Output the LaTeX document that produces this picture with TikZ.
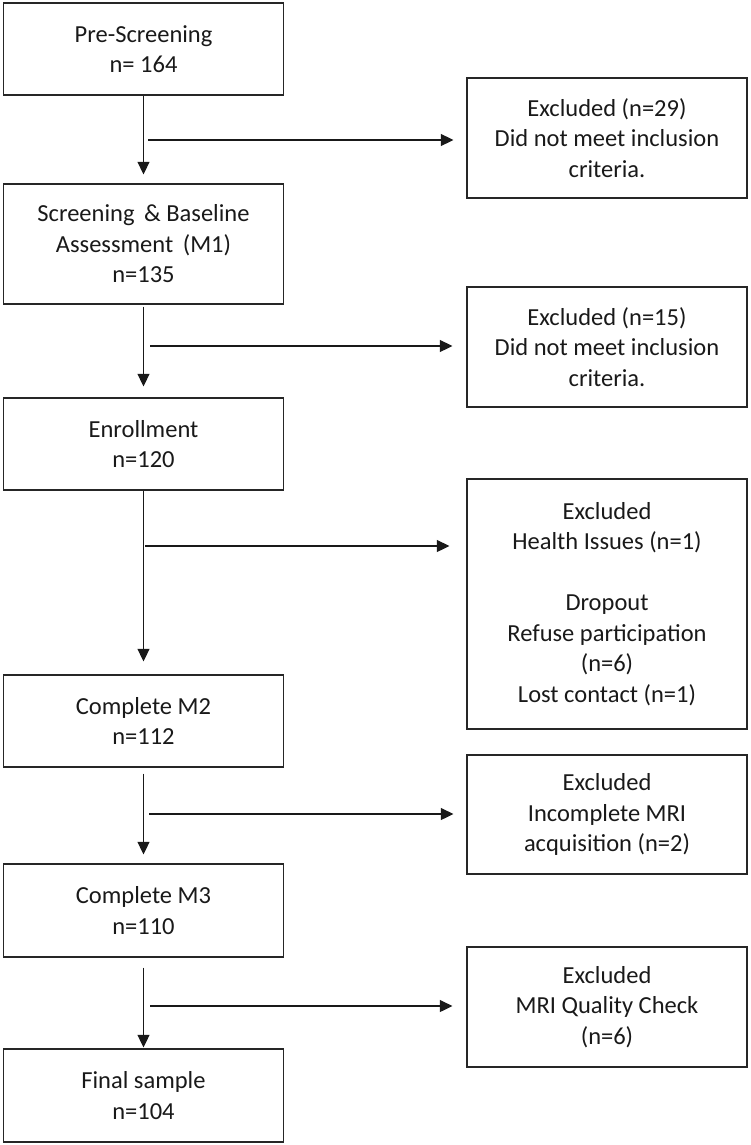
\documentclass[tikz,border=0pt]{standalone}
\usepackage{fontspec}
\setmainfont{Carlito}
\usetikzlibrary{arrows.meta}
\begin{document}
\begin{tikzpicture}[x=1pt,y=-1pt,
  box/.style={draw=black!85, line width=1.3pt, inner sep=0pt, align=center,
    font=\fontsize{24.5}{30.5}\selectfont, text=black!90},
  main/.style={box, minimum width=280pt},
  excl/.style={box, minimum width=280pt},
  flow/.style={line width=1.3pt, draw=black!90, -{Triangle[length=12.5pt,width=12pt]}}]
\useasboundingbox (0,0) rectangle (750,1145);
% main column
\node[main, minimum height=92pt]  (b1) at (143.5,49)    {Pre-Screening\\n= 164};
\node[main, minimum height=120pt] (b2) at (143.5,244)   {Screening \,\& Baseline\\Assessment \,(M1)\\n=135};
\node[main, minimum height=92pt]  (b3) at (143.5,444)   {Enrollment\\n=120};
\node[main, minimum height=92pt]  (b4) at (143.5,721)   {Complete M2\\n=112};
\node[main, minimum height=93pt]  (b5) at (143.5,910.5) {Complete M3\\n=110};
\node[main, minimum height=93pt]  (b6) at (143.5,1095.5){Final sample\\n=104};
% exclusion column
\node[excl, minimum height=120pt] (e1) at (607,138)   {Excluded (n=29)\\Did not meet inclusion\\criteria.};
\node[excl, minimum height=120pt] (e2) at (607,347)   {Excluded (n=15)\\Did not meet inclusion\\criteria.};
\node[excl, minimum height=250pt] (e3) at (607,604)   {Excluded\\Health Issues (n=1)\\[30.5pt]Dropout\\Refuse participation\\(n=6)\\Lost contact (n=1)};
\node[excl, minimum height=119pt] (e4) at (607,814.5) {Excluded\\Incomplete MRI\\acquisition (n=2)};
\node[excl, minimum height=120pt] (e5) at (607,1007)  {Excluded\\MRI Quality Check\\(n=6)};
% vertical flow
\draw[flow, shorten >=9pt] (b1.south) -- (b2.north);
\draw[flow, shorten <=2pt, shorten >=11pt] (b2.south) -- (b3.north);
\draw[flow, shorten >=13pt] (b3.south) -- (b4.north);
\draw[flow, shorten <=6pt, shorten >=9pt] (b4.south) -- (b5.north);
\draw[flow, shorten <=10pt, shorten >=1pt] (b5.south) -- (b6.north);
% horizontal branches
\coordinate (h1) at (148,140);
\coordinate (h2) at (150,346);
\coordinate (h3) at (145,546);
\coordinate (h4) at (149,814);
\coordinate (h5) at (150,1006);
\draw[flow, shorten >=13pt] (h1) -- (h1 -| e1.west);
\draw[flow, shorten >=14pt] (h2) -- (h2 -| e2.west);
\draw[flow, shorten >=17pt] (h3) -- (h3 -| e3.west);
\draw[flow, shorten >=13pt] (h4) -- (h4 -| e4.west);
\draw[flow, shorten >=14pt] (h5) -- (h5 -| e5.west);
\end{tikzpicture}
\end{document}
